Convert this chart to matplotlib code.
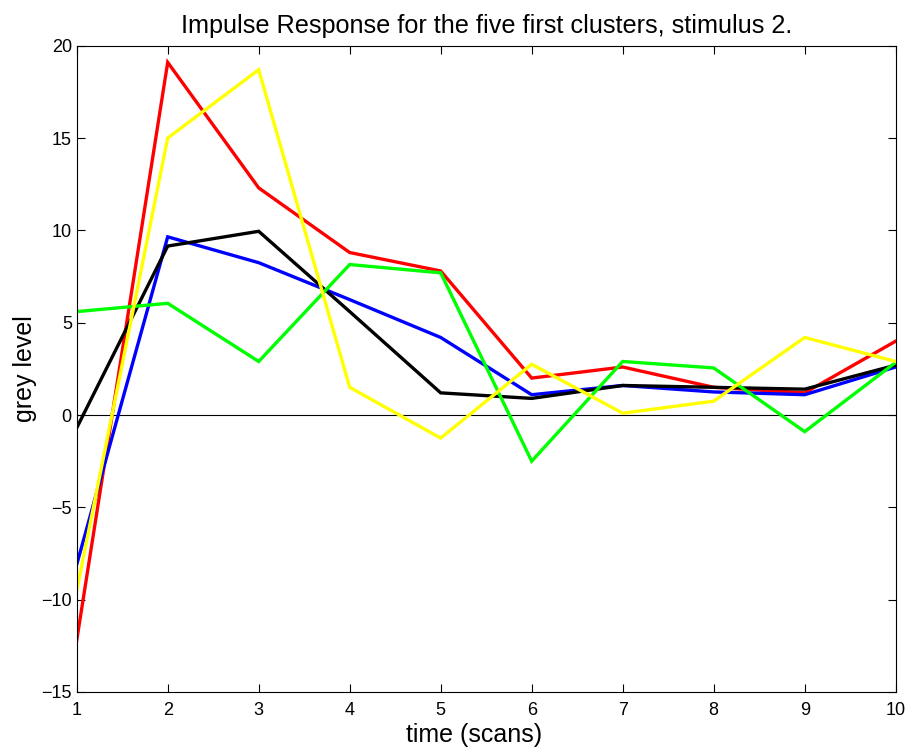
import numpy as np
import matplotlib
matplotlib.use("Agg")
import matplotlib.pyplot as plt

plt.rcParams['font.family'] = ['Liberation Sans', 'DejaVu Sans']

# time axis (scans)
scans = np.arange(1, 11)

# impulse responses
red = [-12.2, 19.1, 12.3, 8.8, 7.8, 2.0, 2.6, 1.5, 1.2, 4.0]
blue = [-8.1, 9.65, 8.25, 6.25, 4.2, 1.1, 1.6, 1.25, 1.1, 2.6]
black = [-0.7, 9.15, 9.95, 5.6, 1.2, 0.9, 1.6, 1.5, 1.4, 2.7]
green = [5.6, 6.05, 2.9, 8.15, 7.7, -2.5, 2.9, 2.55, -0.9, 2.85]
yellow = [-9.5, 15.0, 18.7, 1.5, -1.25, 2.75, 0.1, 0.75, 4.2, 2.9]

series = [(red, 'red'), (blue, 'blue'), (black, 'black'),
          (green, '#00ff00'), (yellow, '#ffff00')]

fig = plt.figure(figsize=(9.11, 7.52), dpi=100)
ax = fig.add_axes([0.0842, 0.0798, 0.899, 0.8594])

ax.axhline(0, color='black', lw=0.8, zorder=1)
for vals, col in series:
    ax.plot(scans, vals, color=col, lw=2.4, zorder=2, solid_joinstyle='miter')

ax.set_xlim(1, 10)
ax.set_ylim(-15, 20)
ax.set_xticks(scans)
ax.set_yticks(np.arange(-15, 21, 5))
ax.tick_params(direction='in', top=True, right=True, labelsize=13,
               length=6, width=0.8)
ax.tick_params(axis='x', pad=7)
for sp in ax.spines.values():
    sp.set_linewidth(0.8)

ax.set_title('Impulse Response for the five first clusters, stimulus 2.',
             fontsize=18.2, pad=9)
ax.set_xlabel('time (scans)', fontsize=18, labelpad=3)
ax.xaxis.label.set_x(0.485)
ax.set_ylabel('grey level', fontsize=18)
ax.yaxis.set_label_coords(-0.048, 0.5)

fig.savefig('out.png', dpi=100)
